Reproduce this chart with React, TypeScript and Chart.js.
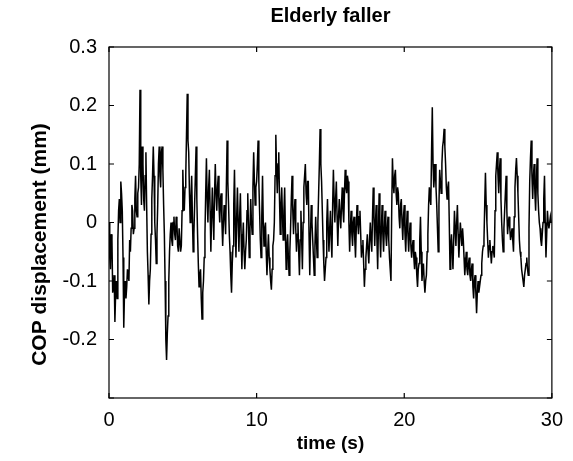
import React, { useEffect, useRef } from "react";
import { Chart, registerables } from "chart.js";

Chart.register(...registerables);

const TITLE = "Elderly faller";
const X_LABEL = "time (s)";
const Y_LABEL = "COP displacement (mm)";
const X_TICKS = [0, 10, 20, 30];
const Y_TICKS = [-0.3, -0.2, -0.1, 0, 0.1, 0.2, 0.3];
const SAMPLE_INTERVAL_S = 0.05;

// COP displacement (mm), one value every 0.05 s from 0 s to 30 s
const COP_MM = [
  0.0, -0.06, -0.08, -0.02, -0.03, -0.12, -0.11, -0.09, -0.17, -0.12, -0.1, -0.13, -0.03, 0.02, 0.04, 0.0, 0.07, 0.05, 0.02, -0.06,
  -0.18, -0.12, -0.1, -0.13, -0.11, -0.08, -0.09, -0.1, -0.03, -0.05, -0.01, 0.03, 0.02, -0.02, -0.01, 0.04, 0.08, 0.02, 0.01, 0.05,
  0.06, 0.1, 0.227, 0.08, 0.03, 0.13, 0.1, 0.04, 0.02, 0.08, 0.12, 0.03, -0.05, -0.09, -0.14, -0.1, -0.08, -0.02, 0.04, 0.08,
  0.13, 0.08, 0.0, -0.03, -0.07, -0.02, 0.03, 0.1, 0.13, 0.08, 0.06, 0.12, 0.13, 0.09, 0.03, -0.02, -0.1, -0.2, -0.235, -0.19,
  -0.16, -0.1, -0.05, -0.02, 0.0, -0.03, -0.04, 0.0, 0.01, -0.02, -0.03, 0.01, 0.0, -0.04, -0.05, -0.01, -0.01, -0.05, -0.04, 0.02,
  0.09, 0.04, 0.02, 0.06, 0.08, 0.15, 0.22, 0.14, 0.12, 0.05, 0.0, 0.04, 0.08, 0.01, -0.05, -0.02, 0.03, 0.08, 0.13, 0.04,
  -0.02, -0.07, -0.11, -0.09, -0.08, -0.13, -0.165, -0.12, -0.1, -0.06, -0.02, 0.05, 0.11, 0.04, 0.0, 0.06, 0.09, 0.02, -0.05, 0.01,
  0.06, 0.01, -0.03, 0.05, 0.1, 0.05, 0.02, 0.06, 0.08, 0.03, 0.0, 0.04, 0.05, 0.0, -0.04, 0.0, 0.03, 0.01, -0.02, 0.06,
  0.14, 0.07, 0.03, -0.02, -0.05, -0.09, -0.12, -0.07, -0.04, 0.03, 0.09, 0.0, -0.06, 0.01, 0.06, 0.0, -0.05, 0.01, 0.05, -0.02,
  -0.08, -0.03, 0.0, -0.05, -0.08, -0.05, -0.03, 0.02, 0.05, -0.01, -0.06, -0.01, 0.04, 0.0, -0.02, 0.06, 0.12, 0.07, 0.03, 0.06,
  0.07, 0.1, 0.14, 0.07, 0.02, -0.03, -0.06, 0.01, 0.08, 0.0, -0.04, -0.01, 0.0, -0.05, -0.09, -0.05, -0.02, -0.06, -0.08, -0.1,
  -0.115, -0.08, -0.04, -0.03, 0.0, 0.08, 0.15, 0.09, 0.05, 0.1, 0.12, 0.04, -0.02, 0.03, 0.06, 0.01, -0.03, 0.02, 0.06, -0.02,
  -0.08, -0.04, -0.02, -0.06, -0.09, -0.05, -0.01, 0.04, 0.08, 0.02, -0.02, 0.02, 0.04, -0.01, -0.05, -0.02, 0.0, -0.05, -0.09, -0.03,
  0.02, -0.03, -0.08, 0.0, 0.06, 0.08, 0.1, 0.05, 0.03, 0.07, 0.07, -0.02, -0.09, -0.02, 0.03, 0.0, -0.03, -0.06, -0.09, -0.04,
  0.01, -0.03, -0.06, 0.0, 0.05, 0.1, 0.16, 0.1, 0.07, 0.02, -0.03, -0.07, -0.1, -0.08, -0.06, 0.0, 0.04, -0.01, -0.05, -0.01,
  0.02, -0.03, -0.06, 0.03, 0.09, 0.04, 0.0, 0.04, 0.07, 0.01, -0.04, 0.01, 0.04, 0.01, -0.01, 0.03, 0.06, 0.02, 0.0, 0.05,
  0.09, 0.06, 0.05, 0.08, 0.07, 0.0, -0.05, -0.01, 0.02, -0.02, -0.04, 0.0, 0.01, -0.03, -0.06, -0.01, 0.03, 0.0, -0.02, 0.01,
  0.02, -0.02, -0.06, -0.04, -0.03, -0.07, -0.11, -0.08, -0.06, -0.04, -0.02, -0.05, -0.07, -0.03, 0.0, -0.03, -0.05, 0.01, 0.06, 0.01,
  -0.04, 0.0, 0.03, -0.03, -0.08, -0.01, 0.05, -0.02, -0.06, -0.01, 0.03, -0.02, -0.05, -0.01, 0.02, -0.02, -0.04, -0.01, 0.01, -0.03,
  -0.06, -0.08, -0.1, 0.02, 0.11, 0.07, 0.05, 0.08, 0.09, 0.05, 0.03, 0.06, 0.05, 0.01, -0.01, 0.03, 0.04, 0.0, -0.03, 0.01,
  0.03, -0.02, -0.05, -0.01, 0.02, -0.02, -0.05, -0.02, 0.0, -0.04, -0.06, -0.04, -0.03, -0.06, -0.08, -0.05, -0.06, -0.09, -0.11, -0.08,
  -0.07, -0.03, 0.01, -0.05, -0.1, -0.08, -0.07, -0.1, -0.12, -0.1, -0.09, -0.05, -0.02, 0.03, 0.06, 0.04, 0.03, 0.12, 0.197, 0.1,
  0.06, 0.08, 0.1, 0.06, 0.03, -0.01, -0.05, 0.03, 0.09, 0.07, 0.05, 0.1, 0.13, 0.14, 0.16, 0.13, 0.1, 0.06, 0.04, 0.06,
  0.07, 0.0, -0.08, -0.04, -0.02, -0.05, -0.08, -0.03, 0.02, -0.01, -0.04, 0.0, 0.03, -0.02, -0.06, -0.03, 0.0, -0.02, -0.04, -0.01,
  -0.03, -0.06, -0.09, -0.07, -0.05, -0.08, -0.09, -0.07, -0.06, -0.09, -0.1, -0.08, -0.07, -0.11, -0.13, -0.1, -0.09, -0.12, -0.155, -0.12,
  -0.1, -0.12, -0.11, -0.1, -0.09, -0.07, -0.05, -0.04, -0.03, 0.03, 0.085, 0.03, 0.0, -0.03, -0.06, -0.04, -0.03, -0.05, -0.07, -0.05,
  -0.04, -0.05, -0.06, 0.02, 0.08, 0.1, 0.12, 0.08, 0.05, 0.09, 0.11, 0.04, 0.0, -0.03, -0.05, -0.01, 0.02, 0.05, 0.08, 0.02,
  -0.02, 0.0, 0.01, -0.01, -0.03, -0.02, -0.01, -0.03, -0.05, 0.01, 0.06, 0.09, 0.11, 0.08, 0.05, 0.01, -0.03, -0.05, -0.06, -0.08,
  -0.09, -0.1, -0.11, -0.09, -0.08, -0.07, -0.06, -0.08, -0.09, -0.01, 0.07, 0.11, 0.14, 0.08, 0.04, 0.08, 0.1, 0.05, 0.02, 0.07,
  0.11, 0.05, 0.02, 0.0, -0.01, -0.03, -0.04, -0.02, 0.0, 0.04, 0.08, 0.0, -0.06, -0.02, 0.02, 0.0, -0.01, 0.0, 0.01, 0.0,
  0.0,
];

const FONT = "'Liberation Sans', Arial, Helvetica, sans-serif";

const boxPlugin = {
  id: "matlabBox",
  afterDraw(chart: any) {
    const { ctx, chartArea } = chart;
    const { left, right, top, bottom } = chartArea;
    ctx.save();
    ctx.strokeStyle = "#000";
    ctx.lineWidth = 1.2;
    ctx.strokeRect(left, top, right - left, bottom - top);
    const tl = 5;
    const xs = chart.scales.x;
    const ys = chart.scales.y;
    ctx.beginPath();
    X_TICKS.forEach((v) => {
      const px = xs.getPixelForValue(v);
      ctx.moveTo(px, bottom);
      ctx.lineTo(px, bottom - tl);
      ctx.moveTo(px, top);
      ctx.lineTo(px, top + tl);
    });
    Y_TICKS.forEach((v) => {
      const py = ys.getPixelForValue(v);
      ctx.moveTo(left, py);
      ctx.lineTo(left + tl, py);
      ctx.moveTo(right, py);
      ctx.lineTo(right - tl, py);
    });
    ctx.stroke();
    // y-axis title, placed a little below the axis centre as in the reference
    ctx.fillStyle = "#000";
    ctx.font = `bold 21px ${FONT}`;
    ctx.textAlign = "center";
    ctx.textBaseline = "middle";
    ctx.translate(40, (top + bottom) / 2 + 22);
    ctx.rotate(-Math.PI / 2);
    ctx.fillText(Y_LABEL, 0, 0);
    ctx.restore();
  },
};

export default function App() {
  const ref = useRef<HTMLCanvasElement | null>(null);

  useEffect(() => {
    if (!ref.current) return;
    const points = COP_MM.map((v, i) => ({ x: i * SAMPLE_INTERVAL_S, y: v }));
    const chart = new Chart(ref.current, {
      type: "line",
      data: {
        datasets: [
          {
            data: points,
            borderColor: "#000",
            borderWidth: 1.5,
            pointRadius: 0,
            tension: 0,
            fill: false,
          },
        ],
      },
      options: {
        animation: false,
        responsive: false,
        maintainAspectRatio: false,
        layout: { padding: { left: 0, right: 17, top: 0, bottom: 0 } },
        plugins: {
          legend: { display: false },
          tooltip: { enabled: false },
          title: {
            display: true,
            text: TITLE,
            fullSize: false,
            color: "#000",
            font: { family: FONT, size: 20, weight: "bold" },
            padding: { top: 4, bottom: 19 },
          },
        },
        scales: {
          x: {
            type: "linear",
            min: 0,
            max: 30,
            afterBuildTicks: (scale: any) => {
              scale.ticks = X_TICKS.map((v) => ({ value: v }));
            },
            afterFit: (scale: any) => {
              scale.height = 63;
            },
            ticks: {
              color: "#000",
              padding: 10,
              maxRotation: 0,
              font: { family: FONT, size: 20 },
            },
            grid: { display: false, drawTicks: false },
            border: { display: false },
            title: {
              display: true,
              text: X_LABEL,
              color: "#000",
              font: { family: FONT, size: 19, weight: "bold" },
              padding: { top: 0, bottom: 6 },
            },
          },
          y: {
            type: "linear",
            min: -0.3,
            max: 0.3,
            afterBuildTicks: (scale: any) => {
              scale.ticks = Y_TICKS.map((v) => ({ value: v }));
            },
            afterFit: (scale: any) => {
              scale.width = 109;
            },
            ticks: {
              color: "#000",
              padding: 12,
              font: { family: FONT, size: 20 },
              callback: (v: any) => {
                const n = Math.round(Number(v) * 10) / 10;
                if (n === -0.3) return "";
                return n === 0 ? "0" : String(n);
              },
            },
            grid: { display: false, drawTicks: false },
            border: { display: false },
            title: { display: false },
          },
        },
      },
      plugins: [boxPlugin],
    });
    return () => chart.destroy();
  }, []);

  return (
    <div style={{ position: "absolute", left: 0, top: 0, width: 573, height: 461, background: "#fff" }}>
      <canvas ref={ref} width={573} height={461} style={{ width: 573, height: 461 }} />
    </div>
  );
}
